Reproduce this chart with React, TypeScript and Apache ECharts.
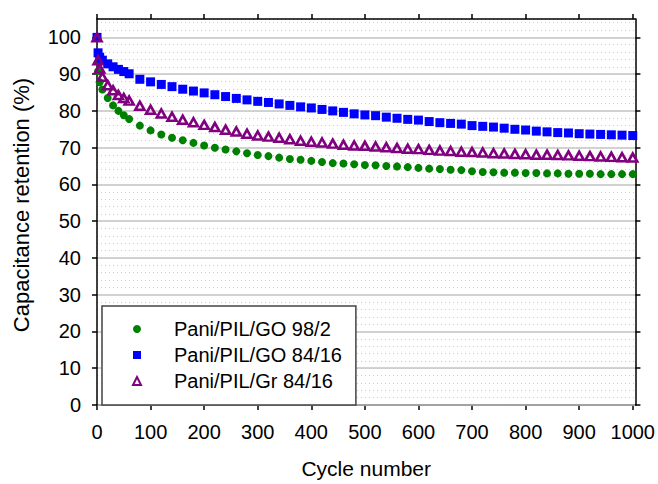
import React, { useEffect, useRef } from 'react';
import * as echarts from 'echarts';

const cycles = [0, 2, 5, 10, 20, 30, 40, 50, 60, 80, 100, 120, 140, 160, 180, 200, 220, 240, 260, 280, 300, 320, 340, 360, 380, 400, 420, 440, 460, 480, 500, 520, 540, 560, 580, 600, 620, 640, 660, 680, 700, 720, 740, 760, 780, 800, 820, 840, 860, 880, 900, 920, 940, 960, 980, 1000];

const goSmall = [100, 90.8, 87.8, 85.8, 83.5, 81.5, 80.0, 78.8, 77.8, 76.0, 74.7, 73.6, 72.7, 72.0, 71.3, 70.6, 70.0, 69.5, 69.0, 68.5, 68.0, 67.7, 67.3, 66.9, 66.7, 66.4, 66.1, 65.8, 65.7, 65.5, 65.3, 65.2, 65.0, 64.9, 64.7, 64.5, 64.3, 64.2, 64.0, 63.9, 63.6, 63.4, 63.3, 63.2, 63.2, 63.1, 63.1, 63.0, 63.0, 62.9, 62.9, 62.9, 62.8, 62.8, 62.8, 62.8];

const goLarge = [100, 95.8, 94.6, 93.8, 92.8, 92.0, 91.3, 90.7, 90.1, 88.6, 87.9, 87.2, 86.6, 85.9, 85.4, 84.9, 84.4, 83.9, 83.4, 83.0, 82.6, 82.3, 81.9, 81.5, 81.1, 80.8, 80.4, 80.0, 79.6, 79.2, 78.9, 78.7, 78.3, 78.0, 77.7, 77.5, 77.1, 76.8, 76.6, 76.4, 76.0, 75.8, 75.6, 75.3, 75.0, 74.8, 74.5, 74.3, 74.1, 74.0, 73.8, 73.7, 73.6, 73.5, 73.4, 73.3];

const grLarge = [100, 93.8, 91.5, 89.3, 87.0, 85.6, 84.3, 83.5, 82.8, 81.4, 80.3, 79.3, 78.4, 77.6, 76.9, 76.2, 75.6, 74.9, 74.4, 73.8, 73.3, 73.0, 72.7, 72.3, 71.9, 71.6, 71.4, 71.1, 70.8, 70.6, 70.5, 70.3, 70.1, 69.9, 69.7, 69.6, 69.4, 69.2, 69.1, 68.9, 68.8, 68.7, 68.5, 68.4, 68.3, 68.2, 68.1, 68.1, 68.0, 67.9, 67.8, 67.7, 67.6, 67.5, 67.4, 67.3];

const seriesNames = ['Pani/PIL/GO 98/2', 'Pani/PIL/GO 84/16', 'Pani/PIL/Gr 84/16'];
const xTicks = [0, 100, 200, 300, 400, 500, 600, 700, 800, 900, 1000];
const yTicks = [0, 10, 20, 30, 40, 50, 60, 70, 80, 90, 100];

const FONT = "'Liberation Sans', Arial, sans-serif";

export default function App() {
  const ref = useRef<HTMLDivElement>(null);
  useEffect(() => {
    if (!ref.current) return;
    const chart = echarts.init(ref.current, null, { renderer: 'svg' });
    const axisLine = { show: true, onZero: false, lineStyle: { color: '#000', width: 1.5 } };
    const pairs = (vals: number[]) => cycles.map((c, i) => [c, vals[i]]);
    const plain = (v: number) => String(v);
    chart.setOption({
      animation: false,
      backgroundColor: '#fff',
      textStyle: { fontFamily: FONT },
      grid: { left: 97, right: 21, top: 19, bottom: 75, containLabel: false },
      xAxis: [
        {
          type: 'value', position: 'bottom', min: 0, max: 1005, interval: 100,
          name: 'Cycle number', nameLocation: 'middle', nameGap: 53,
          nameTextStyle: { fontSize: 21, color: '#000', fontFamily: FONT },
          axisLine,
          axisTick: { show: true, length: 5, customValues: xTicks, lineStyle: { color: '#000', width: 1.5 } },
          axisLabel: { show: true, customValues: xTicks, formatter: plain, fontSize: 20, color: '#000', margin: 17, fontFamily: FONT },
          splitLine: { show: false },
        },
        {
          type: 'value', position: 'top', min: 0, max: 1005, interval: 100,
          axisLine,
          axisTick: { show: true, length: 5, customValues: xTicks, lineStyle: { color: '#000', width: 1.5 } },
          axisLabel: { show: false },
          splitLine: { show: false },
        },
      ],
      yAxis: [
        {
          type: 'value', position: 'left', min: 0, max: 105, interval: 10,
          name: 'Capacitance retention (%)', nameLocation: 'middle', nameGap: 65,
          nameTextStyle: { fontSize: 22, color: '#000', fontFamily: FONT, padding: [0, 0, 0, 14] },
          axisLine,
          axisTick: { show: true, length: 5, customValues: yTicks, lineStyle: { color: '#000', width: 1.5 } },
          axisLabel: { show: true, customValues: yTicks, formatter: plain, fontSize: 20, color: '#000', margin: 16, fontFamily: FONT },
          splitLine: { show: true, lineStyle: { color: '#c4c4c4', width: 1.5 } },
          z: 1,
        },
        {
          type: 'value', position: 'left', min: 0, max: 105, interval: 2,
          axisLine: { show: false, onZero: false },
          axisTick: { show: false },
          axisLabel: { show: false },
          splitLine: { show: true, lineStyle: { color: '#cccccc', width: 1, type: [1, 3] } },
          z: 0,
        },
        {
          type: 'value', position: 'right', min: 0, max: 105, interval: 10,
          axisLine,
          axisTick: { show: true, length: 5, customValues: yTicks, lineStyle: { color: '#000', width: 1.5 } },
          axisLabel: { show: false },
          splitLine: { show: false },
          z: 1,
        },
      ],
      legend: {
        show: true,
        orient: 'vertical',
        left: 102,
        top: 306,
        padding: [13, 14, 14, 30],
        itemWidth: 8,
        itemHeight: 8,
        itemGap: 6,
        backgroundColor: '#fff',
        borderColor: '#444',
        borderWidth: 1.5,
        selectedMode: false,
        textStyle: { fontSize: 20, color: '#000', fontFamily: FONT, padding: [0, 0, 0, 28] },
        data: seriesNames,
      },
      series: [
        {
          type: 'scatter', name: seriesNames[0], data: pairs(goSmall),
          symbol: 'circle', symbolSize: 8,
          itemStyle: { color: '#008000', opacity: 1 }, silent: true,
        },
        {
          type: 'scatter', name: seriesNames[1], data: pairs(goLarge),
          symbol: 'rect', symbolSize: 9,
          itemStyle: { color: '#0000ff', opacity: 1 }, silent: true,
        },
        {
          type: 'scatter', name: seriesNames[2], data: pairs(grLarge),
          symbol: 'triangle', symbolSize: [9, 8],
          itemStyle: { color: 'rgba(255,255,255,0)', borderColor: '#800080', borderWidth: 2.6, opacity: 1 }, silent: true,
        },
      ],
    });
    return () => chart.dispose();
  }, []);
  return <div ref={ref} style={{ position: 'absolute', left: 0, top: 0, width: 658, height: 484 }} />;
}
